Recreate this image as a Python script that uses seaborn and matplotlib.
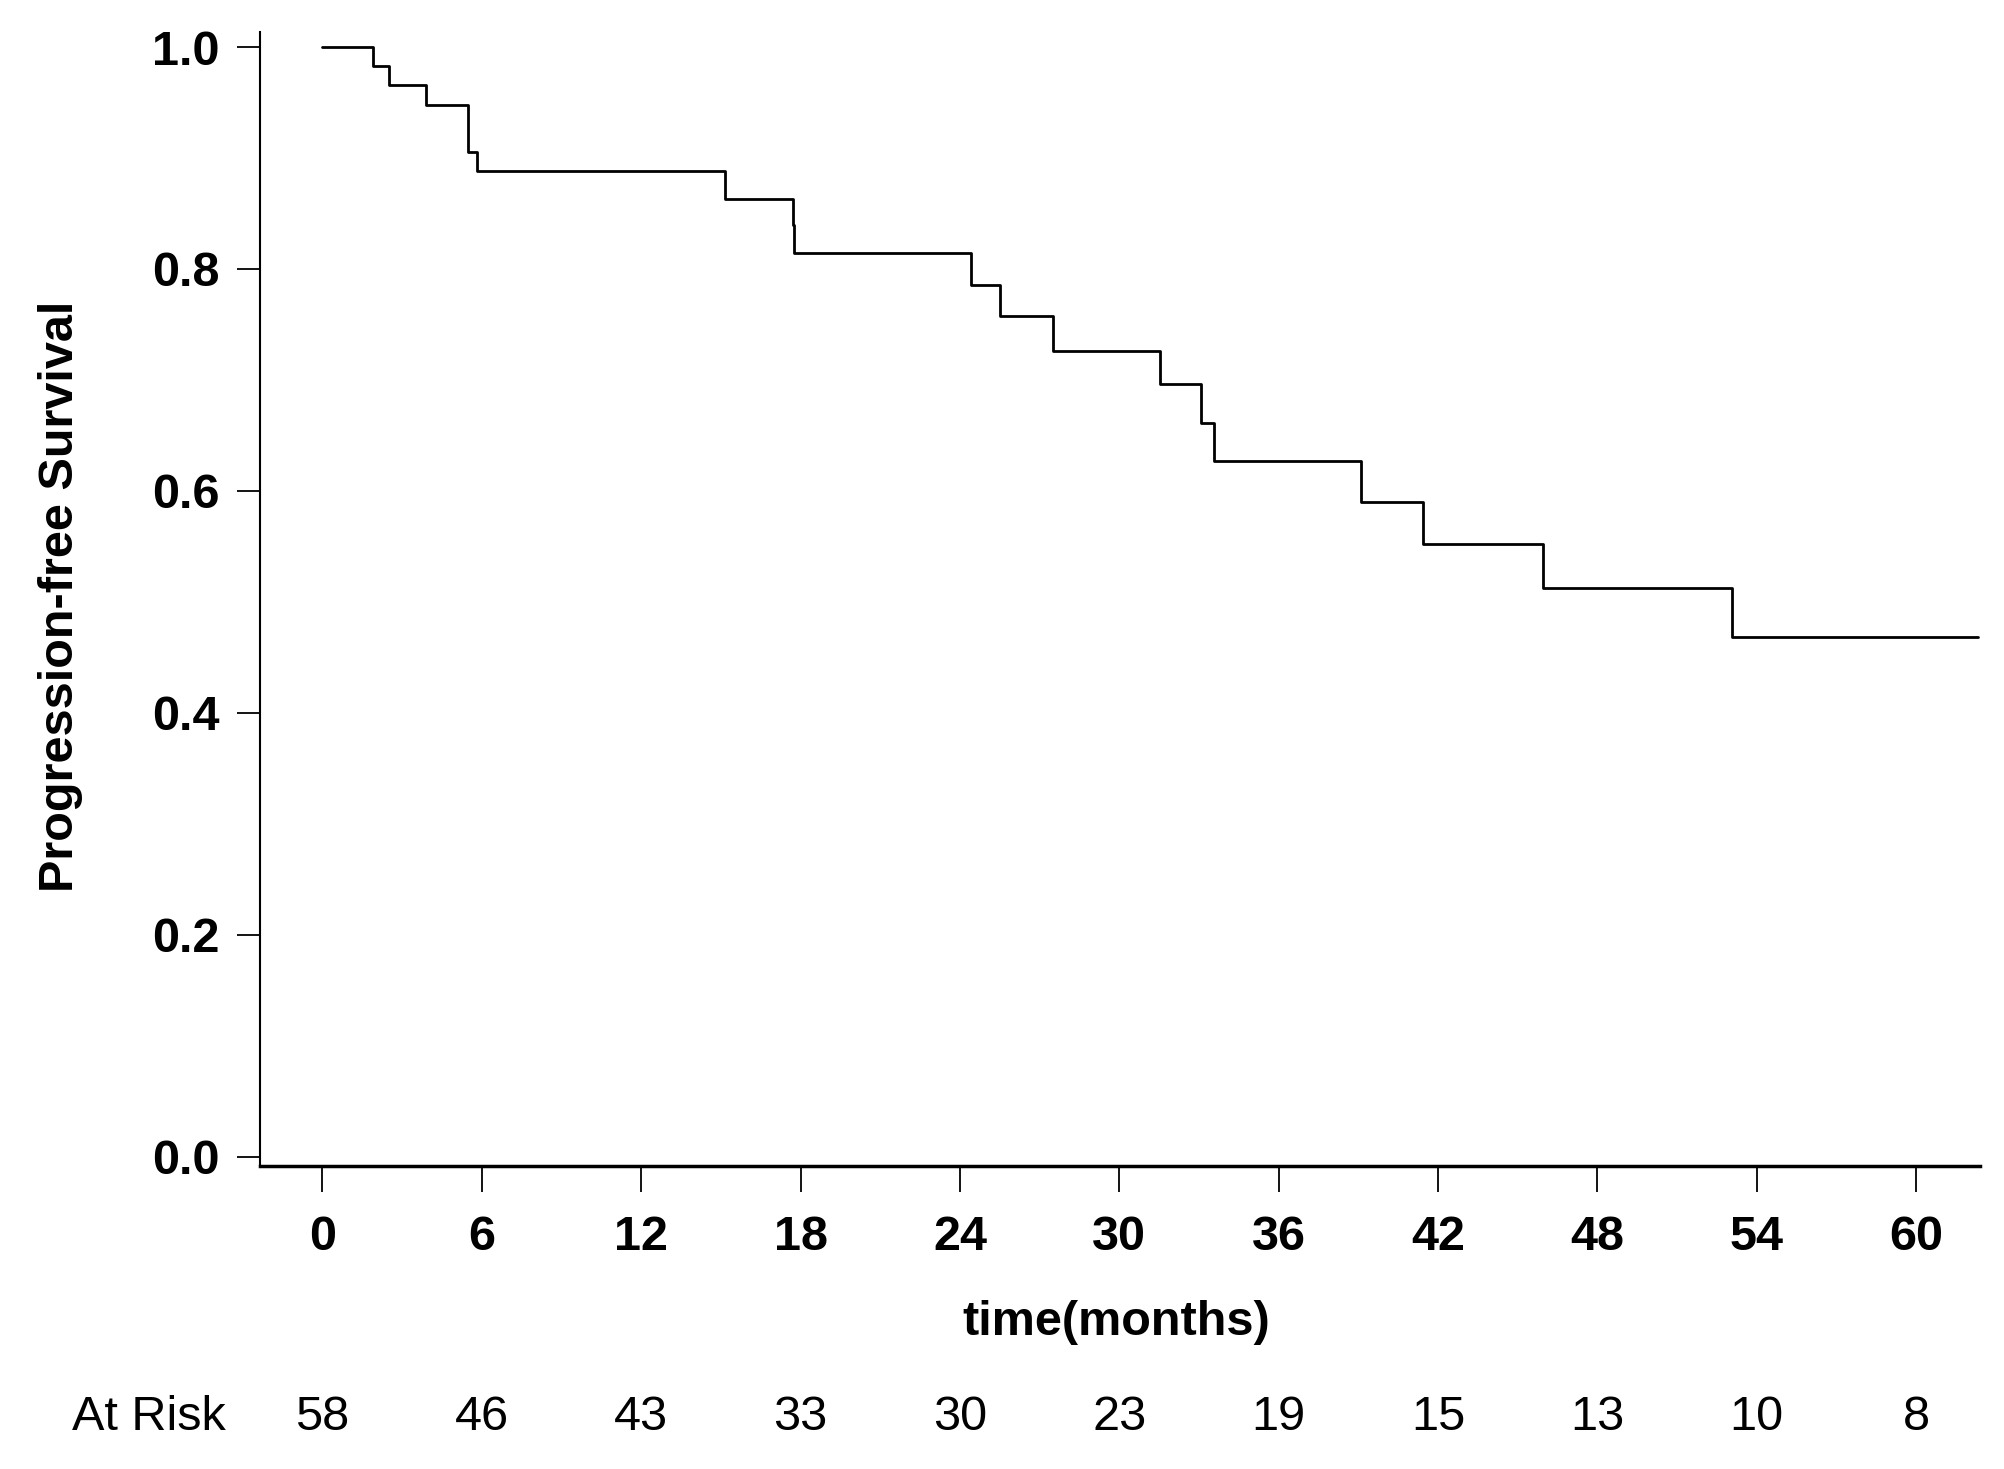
import matplotlib
matplotlib.use("Agg")
import matplotlib.pyplot as plt
import matplotlib.transforms as mtransforms
import seaborn as sns
import pandas as pd

# Kaplan-Meier steps
tiempos = [0, 1.92, 2.50, 3.91, 5.47, 5.81, 15.17, 17.70, 17.77, 24.42, 25.52,
           27.50, 31.52, 33.07, 33.55, 39.09, 41.45, 45.96, 53.07, 62.35]
supervivencia = [1.0, 0.983, 0.966, 0.948, 0.905, 0.888, 0.863, 0.840, 0.814, 0.786, 0.758,
                 0.726, 0.696, 0.661, 0.627, 0.590, 0.552, 0.513, 0.468, 0.468]

meses_ticks = [0, 6, 12, 18, 24, 30, 36, 42, 48, 54, 60]
en_riesgo = [58, 46, 43, 33, 30, 23, 19, 15, 13, 10, 8]
y_ticks = [0.0, 0.2, 0.4, 0.6, 0.8, 1.0]

sns.set_style("ticks")
plt.rcParams['font.family'] = ['Liberation Sans', 'DejaVu Sans']
plt.rcParams['text.color'] = 'black'
plt.rcParams['axes.labelcolor'] = 'black'

df = pd.DataFrame({'tiempo': tiempos, 'pfs': supervivencia})

fig = plt.figure(figsize=(20.04, 14.69), dpi=100)
ax = fig.add_axes([0.1295, 0.2063, 0.8583, 0.7719])

sns.lineplot(data=df, x='tiempo', y='pfs', drawstyle='steps-post', estimator=None,
             color='black', linewidth=2.0, ax=ax)

ax.set_xlim(-2.37, 62.39)
ax.set_ylim(-0.0081, 1.0135)
ax.set_xticks(meses_ticks)
ax.set_xticklabels([str(m) for m in meses_ticks])
ax.set_yticks(y_ticks)
ax.set_yticklabels([f"{v:.1f}" for v in y_ticks])

for lab in ax.get_xticklabels() + ax.get_yticklabels():
    lab.set_fontweight('bold')
    lab.set_fontsize(35)

ax.tick_params(axis='x', length=19, width=1.3, pad=16, colors='black')
ax.tick_params(axis='y', length=16.5, width=1.3, pad=12, colors='black')

sns.despine(ax=ax)
ax.spines['left'].set_linewidth(1.5)
ax.spines['bottom'].set_linewidth(2.5)
ax.spines['left'].set_color('black')
ax.spines['bottom'].set_color('black')

ax.set_xlabel('time(months)', fontsize=35, fontweight='bold', color='black')
ax.xaxis.set_label_coords(0.498, -0.1384)
ax.xaxis.label.set_va('center')
ax.set_ylabel('Progression-free Survival', fontsize=35, fontweight='bold', color='black')
ax.yaxis.set_label_coords(-0.1155, 0.502)
ax.yaxis.label.set_va('center')
ax.yaxis.label.set_ha('center')

# Fila de pacientes en riesgo
trans = mtransforms.blended_transform_factory(ax.transData, fig.transFigure)
y_riesgo = 1 - 1417 / 1469
for m, n in zip(meses_ticks, en_riesgo):
    ax.text(m, y_riesgo, str(n), transform=trans, ha='center', va='center',
            fontsize=35, color='black')
fig.text(149 / 2004, y_riesgo, 'At Risk', ha='center', va='center', fontsize=35, color='black')

fig.savefig('out.png', dpi=100)
plt.close(fig)
